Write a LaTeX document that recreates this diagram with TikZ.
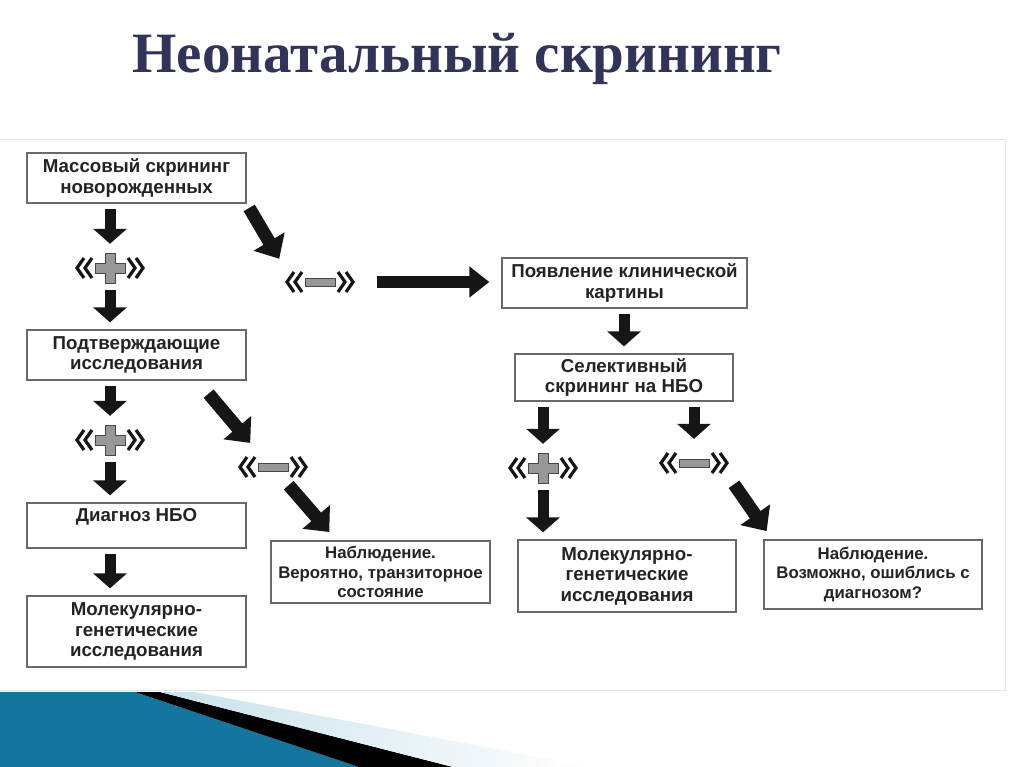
\documentclass[tikz,border=0pt]{standalone}
\usepackage{fontspec}
\setmainfont{Liberation Sans}
\newfontfamily\titlefont{Liberation Serif}
\usetikzlibrary{arrows.meta}
\definecolor{titleblue}{RGB}{50,51,88}
\definecolor{boxline}{RGB}{105,105,105}
\definecolor{ink}{RGB}{35,35,35}
\definecolor{arrowink}{RGB}{22,22,22}
\definecolor{signgray}{RGB}{152,152,152}
\definecolor{panelline}{RGB}{230,230,230}
\definecolor{tealdark}{RGB}{20,118,158}
\definecolor{teallight}{RGB}{88,182,216}
\definecolor{palestripe}{RGB}{200,225,236}
\newcommand{\chevrons}{%
  \foreach \s in {-1,1}
    \foreach \x in {33,25}
      \draw[chevron] ([shift={({\s*(\x-7)*1pt},10pt)}]path picture bounding box.center)
        -- ++({\s*7pt},-10pt) -- ++({-\s*7pt},-10pt);}
\begin{document}
\begin{tikzpicture}[
      x=1pt, y=-1pt,
      box/.style={draw=boxline, line width=1.3pt, fill=white, text=ink,
                  align=center, inner sep=2pt,
                  font=\bfseries\fontsize{18.7}{20.5}\selectfont,
                  minimum width=219pt, minimum height=50pt},
      smallbox/.style={box, font=\bfseries\fontsize{16.8}{19.5}\selectfont},
      sign/.style={inner sep=0pt, minimum width=74pt, minimum height=34pt},
      chevron/.style={draw=arrowink, line width=3.2pt, line join=miter},
      bar/.style={fill=signgray, draw=gray!55!black, line width=0.7pt},
      signplus/.style={sign, path picture={
          \chevrons
          \draw[bar] ([shift={(-5pt,-15pt)}]path picture bounding box.center)
            -- ++(10pt,0pt) -- ++(0pt,10pt) -- ++(10pt,0pt) -- ++(0pt,10pt)
            -- ++(-10pt,0pt) -- ++(0pt,10pt) -- ++(-10pt,0pt) -- ++(0pt,-10pt)
            -- ++(-10pt,0pt) -- ++(0pt,-10pt) -- ++(10pt,0pt) -- cycle;}},
      signminus/.style={sign, path picture={
          \chevrons
          \draw[bar] ([shift={(-15pt,-4pt)}]path picture bounding box.center)
            rectangle ++(30pt,8pt);}},
      fat/.style={draw=arrowink, line width=11pt,
                  -{Triangle[width=33pt,length=15pt]},
                  shorten <=5pt, shorten >=7pt},
      slant/.style={fat, line width=13pt, -{Triangle[width=35pt,length=20pt]}}
    ]
      \useasboundingbox (0,0) rectangle (1024,767);
      \fill[white] (0,0) rectangle (1024,767);
      \draw[panelline, line width=1pt] (-2,140) rectangle (1005,690);

      \node[anchor=base west, text=titleblue,
            font=\titlefont\bfseries\fontsize{57}{60}\selectfont]
        (title) at (129,73) {Неонатальный скрининг};

      \node[box] (mass) at (136.5,178) {Массовый скрининг\\новорожденных};
      \node[box] (conf) at (136.5,355) {Подтверждающие\\исследования};
      \node[box, minimum height=45pt] (diag) at (136.5,525.5) {Диагноз НБО\\\mbox{}};
      \node[box, minimum height=71pt] (molL) at (136.5,631.5)
        {Молекулярно-\\генетические\\исследования};
      \node[smallbox, minimum height=62pt] (obsL) at (380.5,572)
        {Наблюдение.\\Вероятно, транзиторное\\состояние};
      \node[box, minimum width=245pt] (clin) at (624.5,283)
        {Появление клинической\\картины};
      \node[box, minimum width=218pt, minimum height=47pt] (sel) at (624,377.5)
        {Селективный\\скрининг на НБО};
      \node[box, minimum width=218pt, minimum height=72pt] (molR) at (627,576)
        {Молекулярно-\\генетические\\исследования};
      \node[smallbox, minimum width=218pt, minimum height=69pt] (obsR) at (873,574.5)
        {Наблюдение.\\Возможно, ошиблись с\\диагнозом?};

      \node[signplus] (p1) at (110,268) {};
      \node[signminus] (m1) at (320,282) {};
      \node[signplus] (p2) at (110,440) {};
      \node[signminus] (m2) at (273,467) {};
      \node[signplus] (p3) at (543,468) {};
      \node[signminus] (m3) at (694,463) {};

      \foreach \a/\b/\c in {mass/p1/p1, p1/conf/p1, conf/p2/p2, p2/diag/p2,
                            diag/molL/p2, clin/sel/sel, sel/p3/p3, sel/m3/m3,
                            p3/molR/p3}
        \draw[fat] (\a.south -| \c) -- (\b.north -| \c);

      \draw[slant] (mass.south east) -- (m1.north west);
      \draw[fat, line width=12pt, -{Triangle[width=30pt,length=20pt]},
            shorten <=20pt, shorten >=12pt] (m1.east) -- (clin.west |- m1);
      \draw[slant, shorten <=17pt, shorten >=9pt]
        ([xshift=-49pt]conf.south east) -- ([xshift=-17pt]m2.north);
      \draw[slant, shorten <=24pt, shorten >=11pt]
        (m2.center) -- ([xshift=-44pt]obsL.north);
      \draw[slant, shorten >=10pt] (m3.south east) -- ([xshift=9pt]obsR.north west);

      \shade[left color=tealdark, middle color=teallight, right color=tealdark]
        (0,692) -- (135,692) -- (359,767) -- (0,767) -- cycle;
      \fill[black] (135,692) -- (160,692) -- (453,767) -- (359,767) -- cycle;
      \shade[left color=palestripe, right color=white]
        (160,692) -- (195,692) -- (590,767) -- (453,767) -- cycle;
    \end{tikzpicture}
\end{document}
